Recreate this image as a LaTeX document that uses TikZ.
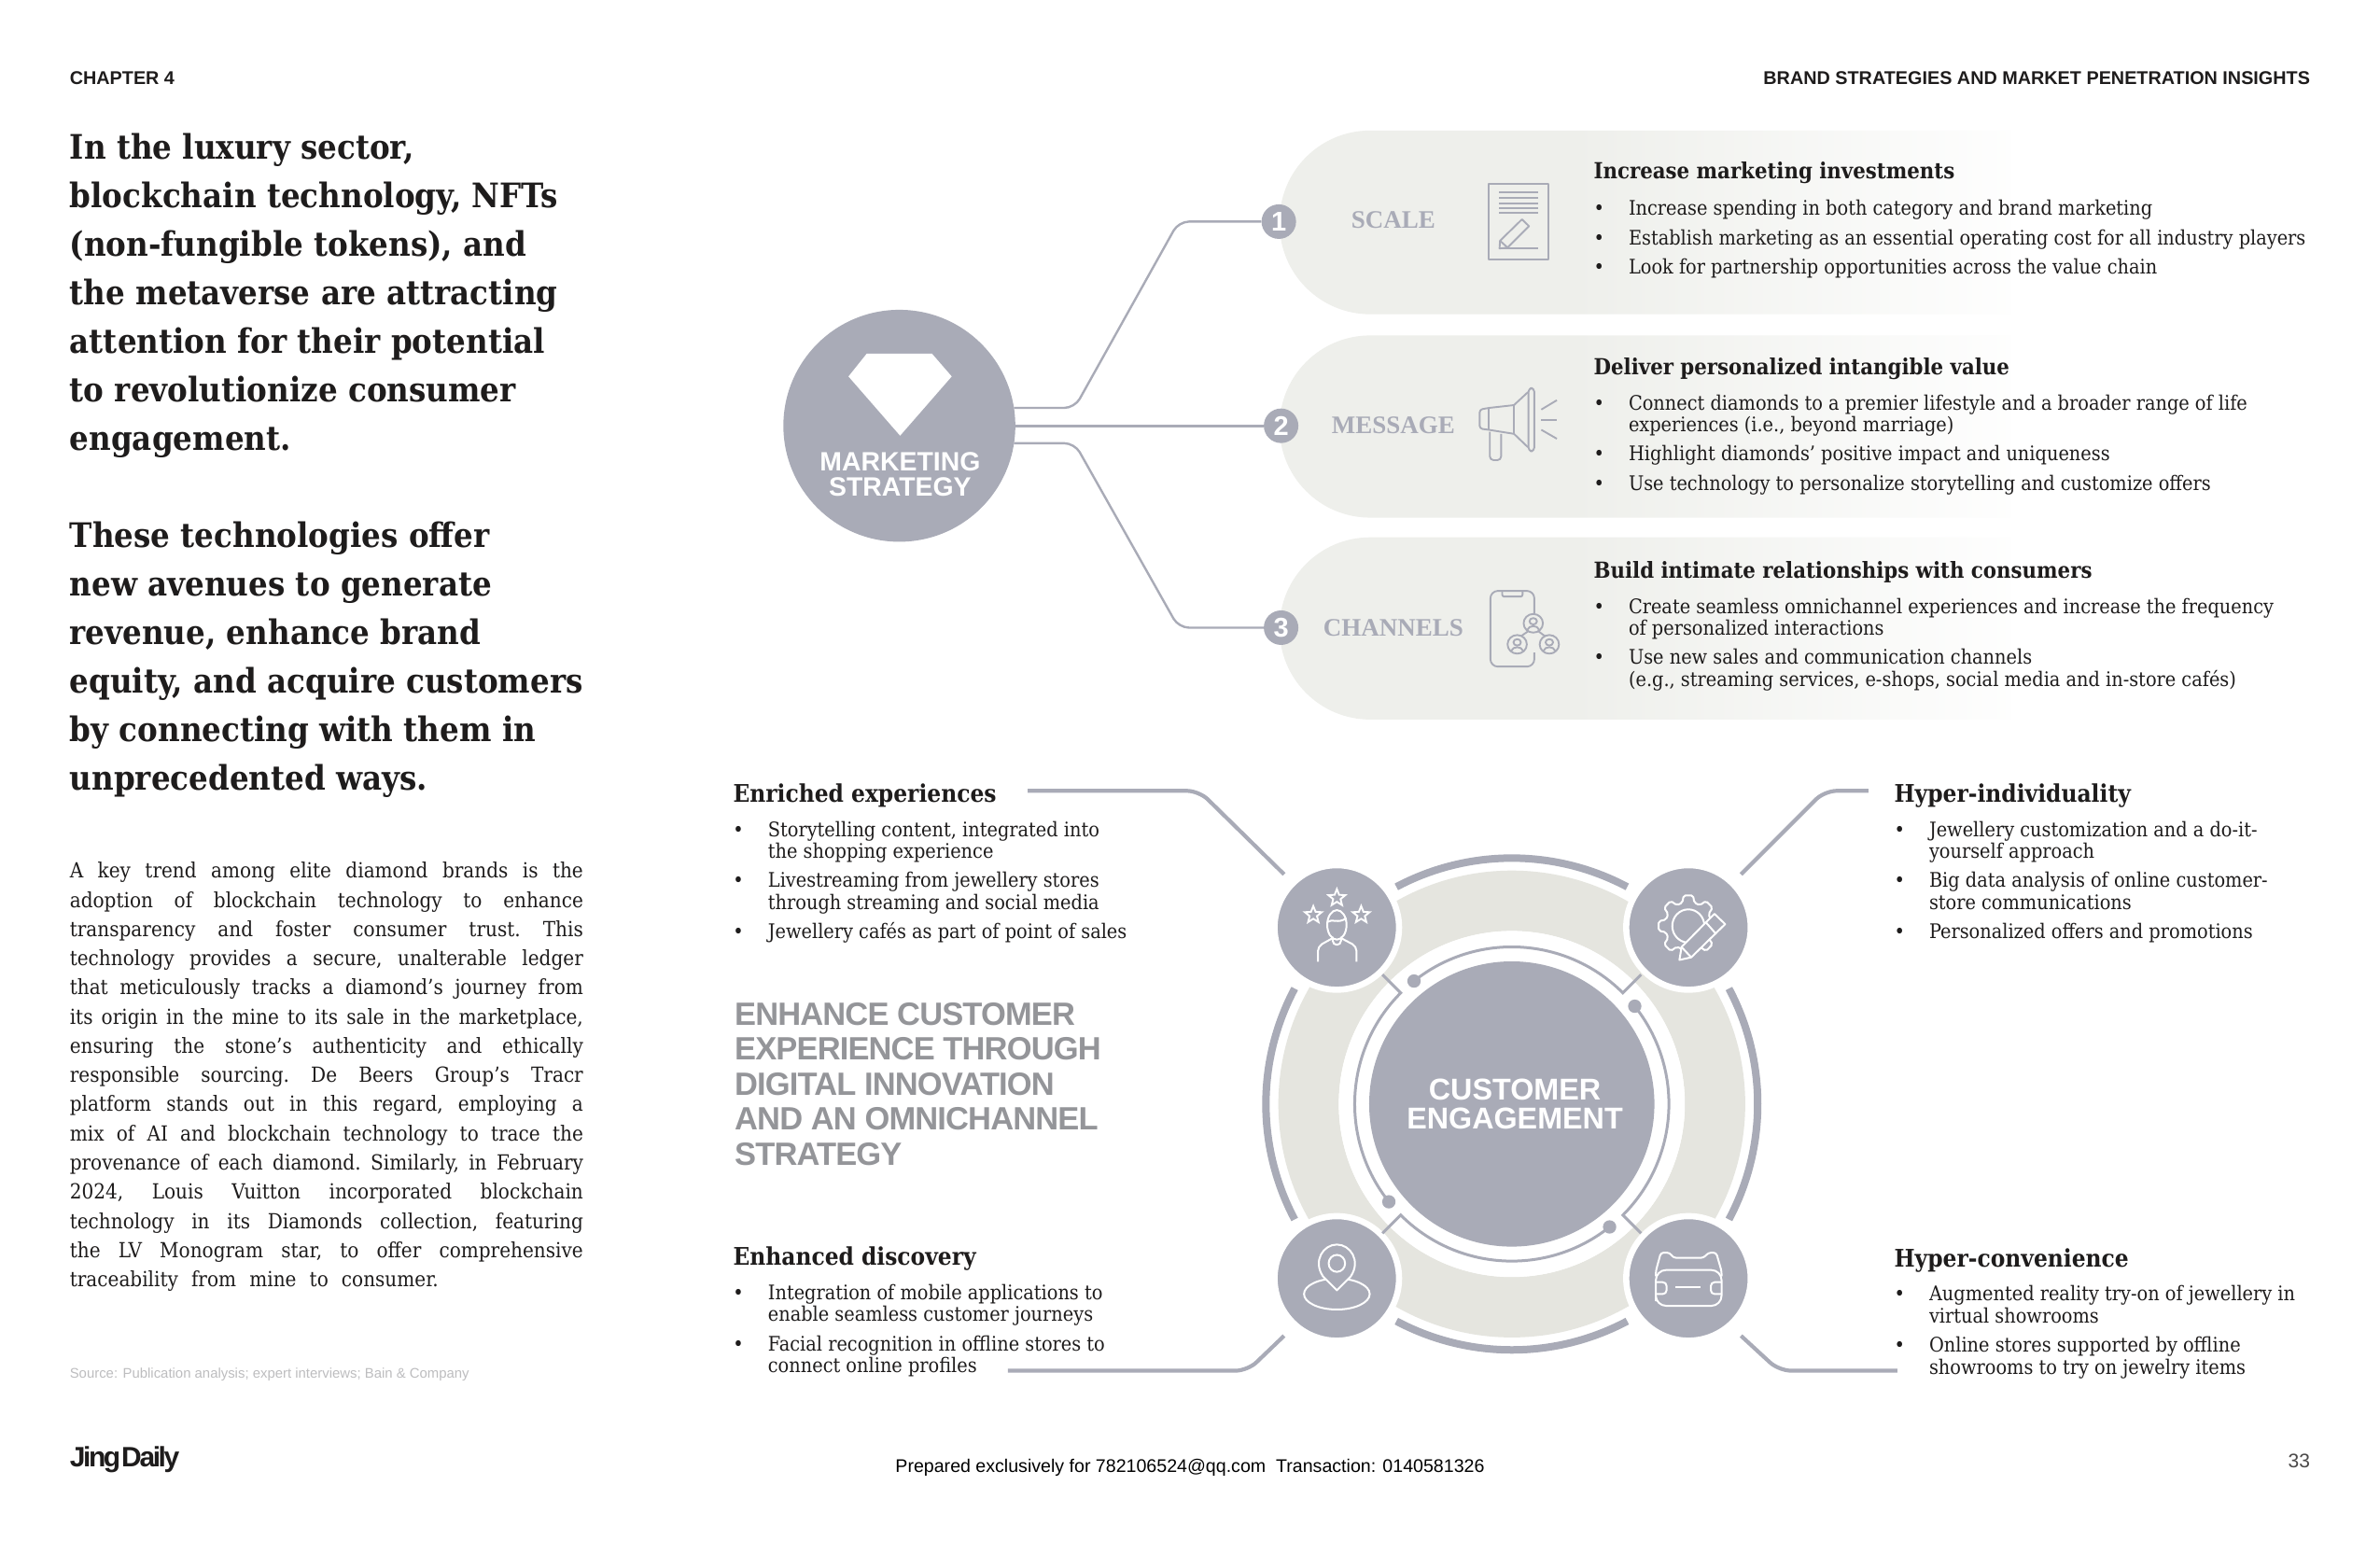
\documentclass[tikz,border=0pt]{standalone}
\usepackage{fontspec}
\usetikzlibrary{shapes.geometric}
\setmainfont{Liberation Sans}
\newfontfamily\srf{DejaVu Serif Condensed}
\newfontfamily\lib{Liberation Serif}
\newfontfamily\sanstight[LetterSpace=-2.5]{Liberation Sans}
\newfontfamily\sanslogo[LetterSpace=-8]{Liberation Sans}
\definecolor{gr}{HTML}{A9ABB7}
\definecolor{bigg}{HTML}{949599}
\definecolor{beige}{HTML}{E5E5DF}
\definecolor{pill}{HTML}{EEEFEB}
\definecolor{ink}{HTML}{1E1C1C}
\definecolor{srcgr}{HTML}{BDBDBF}
\pgfdeclarehorizontalshading{pillfade}{100bp}{color(0bp)=(pill); color(45bp)=(pill); color(77bp)=(white); color(100bp)=(white)}
\newcommand\fs[2]{\fontsize{#1pt}{#2pt}\selectfont}
\newcommand\bl[1]{\hbox{\llap{\textbullet\hspace{26pt}}#1}}
\newcommand\gapitem{\vskip7.3pt}
\tikzset{
 txt/.style={anchor=base west,inner sep=0,outer sep=0,text=ink},
 listtxt/.style={txt,font=\srf\fs{21.5}{23.8}},
 headtxt/.style={txt,font=\srf\bfseries\fs{23.7}{24}},
 headbig/.style={txt,font=\srf\bfseries\fs{26}{26}},
 pilllab/.style={inner sep=0,text=gr,font=\lib\bfseries\fs{27}{27}},
 numc/.style={circle,fill=gr,inner sep=0,minimum size=37pt,text=white,font=\bfseries\fs{29}{29}},
 conn/.style={draw=gr,line width=2.4pt,rounded corners=11pt},
 conb/.style={draw=gr,line width=4.2pt,rounded corners=13pt},
 satc/.style={circle,fill=gr,draw=white,line width=6.6pt,inner sep=0,minimum size=133.4pt},
 iconw/.style={draw=white,line width=2pt,line join=round},
 icong/.style={draw=gr,line width=1.9pt,line join=round},
 zoomA/.style={shift={(492,73.8)},x=0.574pt,y=-0.4337pt},
 zoomB/.style={shift={(811.8,541.2)},x=0.3827pt,y=-0.3955pt},
 polarC/.style={shift={(996,727.3)},x=1.62628pt,y=1.62628pt},
}
\begin{document}
\begin{tikzpicture}[x=1.62628pt,y=-1.62628pt]
\useasboundingbox[fill=white] (0,0) rectangle (1568,1014.6);
% header
\node[txt,font=\bfseries\fs{19.8}{20}] (chap) at (46,55.5) {CHAPTER 4};
\node[anchor=base east,inner sep=0,text=ink,font=\bfseries\fs{19.8}{20}] (run) at (1522,55.5) {BRAND STRATEGIES AND MARKET PENETRATION INSIGHTS};
% left column
\node[txt,font=\srf\bfseries\fs{36.2}{52}] (lead) at (46,104.8) {\vtop{\baselineskip=52.04pt\lineskiplimit=-100pt
\hbox{In the luxury sector,}\hbox{blockchain technology, NFTs}\hbox{(non-fungible tokens), and}\hbox{the metaverse are attracting}\hbox{attention for their potential}\hbox{to revolutionize consumer}\hbox{engagement.}
\vskip52.04pt
\hbox{These technologies offer}\hbox{new avenues to generate}\hbox{revenue, enhance brand}\hbox{equity, and acquire customers}\hbox{by connecting with them in}\hbox{unprecedented ways.}}};
\node[txt,font=\srf\fs{22.3}{31}] (body) at (46,578.5) {\frenchspacing\vtop{\baselineskip=31.27pt\lineskiplimit=-100pt
\hbox to 550pt{A key trend among elite diamond brands is the}
\hbox to 550pt{adoption of blockchain technology to enhance}
\hbox to 550pt{transparency and foster consumer trust. This}
\hbox to 550pt{technology provides a secure, unalterable ledger}
\hbox to 550pt{that meticulously tracks a diamond’s journey from}
\hbox to 550pt{its origin in the mine to its sale in the marketplace,}
\hbox to 550pt{ensuring the stone’s authenticity and ethically}
\hbox to 550pt{responsible sourcing. De Beers Group’s Tracr}
\hbox to 550pt{platform stands out in this regard, employing a}
\hbox to 550pt{mix of AI and blockchain technology to trace the}
\hbox to 550pt{provenance of each diamond. Similarly, in February}
\hbox to 550pt{2024, Louis Vuitton incorporated blockchain}
\hbox to 550pt{technology in its Diamonds collection, featuring}
\hbox to 550pt{the LV Monogram star, to offer comprehensive}
\hbox to 395pt{traceability from mine to consumer.}}};
\node[txt,text=srcgr,font=\fs{14.9}{15}] (src) at (46,908) {Source: Publication analysis; expert interviews; Bain \& Company};
% footer
\node[txt,font=\sanslogo\bfseries\fs{30}{31}] (logo) at (46,966) {Jing\hspace{-5pt} Daily};
\node[anchor=base,inner sep=0,text=black,font=\fs{19.6}{21}] (prep) at (784,970) {Prepared exclusively for 782106524@qq.com\ \ Transaction: 0140581326};
\node[anchor=base east,inner sep=0,text=ink!80,font=\fs{21}{21}] (pg) at (1522,967) {33};
% pills
\foreach \yy/\yb in {86/207,221/341,354/474}{
 \path[shading=pillfade,rounded corners=97pt] (1325,\yy) -- (843,\yy) -- (843,\yb) [sharp corners] -- (1325,\yb) -- cycle;
}
% marketing circle and numbers
\node[circle,fill=gr,inner sep=0,minimum size=248.5pt] (mk) at (592.5,280.5) {};
\node[numc] (n1) at (842.5,146) {1};
\node[numc] (n2) at (844,280.5) {2};
\node[numc] (n3) at (844,413.5) {3};
\coordinate (m1) at (668,268.7);
\coordinate (m2) at (668,280.5);
\coordinate (m3) at (668,292);
\draw[conn] (m1) -- (708,268.7) -- (776.5,146) -- (n1);
\draw[conn,line width=3pt] (m2) -- (n2);
\draw[conn] (m3) -- (708,292) -- (776.5,413.5) -- (n3);
\fill[white] (571,233) -- (614,233) -- (627,248) -- (593,287) -- (559,248) -- cycle;
\node[inner sep=0,align=center,text=white,font=\bfseries\fs{28.4}{27.5}] (mkt) at (593,312.5) {MARKETING\\STRATEGY};
% pill labels
\node[pilllab] (l1) at (918,145) {SCALE};
\node[pilllab] (l2) at (918,280) {MESSAGE};
\node[pilllab] (l3) at (918,413.5) {CHANNELS};
% icons top
\begin{scope}[zoomA]
 \draw[icong] (1384,177) rectangle (1497,365);
 \foreach \zy in {198,212,225,237,249}{\draw[icong] (1404,\zy) -- (1477,\zy);}
 \draw[icong] (1404,337) -- (1477,337);
 \draw[icong] (1405,337) -- (1406,318) -- (1447,265) -- (1460,282) -- (1420,335) -- cycle;
 \draw[icong] (1406,318) -- (1420,335);
 % megaphone
 \draw[icong,rounded corners=3pt] (1385,731) -- (1368,735) -- (1368,782) -- (1385,785);
 \draw[icong] (1385,731) -- (1385,785);
 \draw[icong] (1385,731) -- (1432,724) -- (1458,692);
 \draw[icong] (1385,785) -- (1432,795) -- (1458,828);
 \draw[icong] (1432,724) -- (1432,795);
 \draw[icong,rounded corners=4pt] (1459,682) rectangle (1470,838);
 \draw[icong,rounded corners=4pt] (1387,790) -- (1387,860) -- (1408,860) -- (1408,795);
 \draw[icong] (1483,735) -- (1512,712);
 \draw[icong] (1483,760) -- (1512,760);
 \draw[icong] (1483,785) -- (1512,807);
 % phone
 \draw[icong,rounded corners=8pt] (1470,1240) -- (1470,1183) -- (1388,1183) -- (1388,1370) -- (1470,1370) -- (1470,1335);
 \draw[icong,rounded corners=2pt] (1410,1183) -- (1410,1197) -- (1448,1197) -- (1448,1183);
 \foreach \cx/\cy in {1468/1263,1438/1315,1498/1315}{
  \draw[icong] (\cx,\cy) circle [x radius=18,y radius=23];
  \draw[icong] (\cx,\cy-5) circle [x radius=7,y radius=8];
  \draw[icong] (\cx-11,\cy+16) .. controls (\cx-8,\cy+4) and (\cx+8,\cy+4) .. (\cx+11,\cy+16);
 }
 \draw[icong] (1458,1283) -- (1445,1295);
 \draw[icong] (1478,1283) -- (1490,1295);
\end{scope}
% top texts
\node[headtxt] (h1) at (1050,118) {Increase marketing investments};
\node[listtxt] (t1) at (1073,142) {\vtop{\baselineskip=23.8pt\lineskiplimit=-100pt
\bl{Increase spending in both category and brand marketing}\gapitem
\bl{Establish marketing as an essential operating cost for all industry players}\gapitem
\bl{Look for partnership opportunities across the value chain}}};
\node[headtxt] (h2) at (1050,247) {Deliver personalized intangible value};
\node[listtxt] (t2) at (1073,270) {\vtop{\baselineskip=23.8pt\lineskiplimit=-100pt
\bl{Connect diamonds to a premier lifestyle and a broader range of life}
\hbox{experiences (i.e., beyond marriage)}\gapitem
\bl{Highlight diamonds’ positive impact and uniqueness}\gapitem
\bl{Use technology to personalize storytelling and customize offers}}};
\node[headtxt] (h3) at (1050,381) {Build intimate relationships with consumers};
\node[listtxt] (t3) at (1073,404) {\vtop{\baselineskip=23.8pt\lineskiplimit=-100pt
\bl{Create seamless omnichannel experiences and increase the frequency}
\hbox{of personalized interactions}\gapitem
\bl{Use new sales and communication channels}
\hbox{(e.g., streaming services, e-shops, social media and in-store cafés)}}};
% bottom left and right texts
\node[headbig] (h4) at (483,528.5) {Enriched experiences};
\node[listtxt] (t4) at (506,551) {\vtop{\baselineskip=23.8pt\lineskiplimit=-100pt
\bl{Storytelling content, integrated into}
\hbox{the shopping experience}\gapitem
\bl{Livestreaming from jewellery stores}
\hbox{through streaming and social media}\gapitem
\bl{Jewellery cafés as part of point of sales}}};
\node[txt,text=bigg,font=\sanstight\bfseries\fs{34.5}{37}] (big) at (484,675.5) {\vtop{\baselineskip=37.4pt\lineskiplimit=-100pt
\hbox{ENHANCE CUSTOMER}\hbox{EXPERIENCE THROUGH}\hbox{DIGITAL INNOVATION}\hbox{AND AN OMNICHANNEL}\hbox{STRATEGY}}};
\node[headbig] (h5) at (483,833.5) {Enhanced discovery};
\node[listtxt] (t5) at (506,856) {\vtop{\baselineskip=23.8pt\lineskiplimit=-100pt
\bl{Integration of mobile applications to}
\hbox{enable seamless customer journeys}\gapitem
\bl{Facial recognition in offline stores to}
\hbox{connect online profiles}}};
\node[headbig] (h6) at (1248,528.5) {Hyper-individuality};
\node[listtxt] (t6) at (1271,551) {\vtop{\baselineskip=23.8pt\lineskiplimit=-100pt
\bl{Jewellery customization and a do-it-}
\hbox{yourself approach}\gapitem
\bl{Big data analysis of online customer-}
\hbox{store communications}\gapitem
\bl{Personalized offers and promotions}}};
\node[headbig] (h7) at (1248,834.5) {Hyper-convenience};
\node[listtxt] (t7) at (1271,857) {\vtop{\baselineskip=23.8pt\lineskiplimit=-100pt
\bl{Augmented reality try-on of jewellery in}
\hbox{virtual showrooms}\gapitem
\bl{Online stores supported by offline}
\hbox{showrooms to try on jewelry items}}};
% wheel
\begin{scope}[polarC]
 \draw[beige,line width=64.7pt] (0,0) circle [radius=133.9];
 \foreach \a in {0,90,180,270}{
  \draw[gr,line width=8pt] (\a-28:162) arc [start angle=\a-28,end angle=\a+28,radius=162];
 }
 \fill[white] (0,0) circle [radius=114];
\end{scope}
\node[circle,fill=gr,inner sep=0,minimum size=305.6pt] (ce) at (996,727.3) {};
\node[inner sep=0,align=center,text=white,font=\bfseries\fs{32.3}{31}] (cet) at (998,727.5) {CUSTOMER\\ENGAGEMENT};
\node[satc] (s1) at (880.7,611) {};
\node[satc] (s2) at (1112.4,611) {};
\node[satc] (s3) at (880.7,842.2) {};
\node[satc] (s4) at (1112.4,842.2) {};
\begin{scope}[polarC]
 \foreach \a/\b in {128.5/45,38.5/-45,-51.5/-135,218.5/135}{
  \draw[gr,line width=3pt,line join=miter] (\a:103.5) arc [start angle=\a,end angle=\b,radius=103.5] -- (\b:120.5);
  \fill[gr] (\a:103.5) circle [radius=4.4];
 }
\end{scope}
% connectors of the wheel
\coordinate (e1) at (846,576);
\coordinate (e2) at (1147,576);
\coordinate (e3) at (846,880);
\coordinate (e4) at (1147,880);
\coordinate (f1) at (677,521);
\coordinate (f2) at (1231,521);
\coordinate (f3) at (664,903);
\coordinate (f4) at (1250,903);
\draw[conb] (f1) -- (790,521) -- (e1);
\draw[conb] (f2) -- (1202,521) -- (e2);
\draw[conb] (f3) -- (822,903) -- (e3);
\draw[conb] (f4) -- (1172,903) -- (e4);
% satellite icons
\begin{scope}[zoomB]
 % person with stars
 \foreach \nm/\cx/\cy in {st1/293/207,st2/227/253,st3/361/253}{
  \node[star,star points=5,star point ratio=2.3,draw=white,line width=1.9pt,inner sep=0,minimum size=19pt] (\nm) at (\cx,\cy) {};
 }
 \draw[iconw] (293,280) circle [x radius=27,y radius=40];
 \draw[iconw] (267,272) .. controls (280,262) and (295,278) .. (320,262);
 \draw[iconw] (281,312) -- (281,322) .. controls (281,338) and (305,338) .. (305,322) -- (305,312);
 \draw[iconw,rounded corners=5pt] (240,380) -- (240,338) -- (281,316);
 \draw[iconw,rounded corners=5pt] (348,380) -- (348,338) -- (305,316);
 % gear and pencil
 \begin{scope}[shift={(1277,283)}]
  \draw[iconw,rounded corners=2pt] (-15:65) \foreach \a in {0,45,...,315}{ -- (\a-15:65) -- (\a-9:84) -- (\a+9:84) -- (\a+15:65)} -- cycle;
  \draw[iconw] (0,0) circle [radius=45];
 \end{scope}
 \draw[iconw,fill=gr] (1252,375) -- (1285,368) -- (1380,278) -- (1350,250) -- (1258,340) -- cycle;
 \draw[iconw] (1258,340) -- (1285,368);
 \draw[iconw] (1325,272) -- (1355,305);
 % pin
 \draw[iconw] (293,1280) circle [x radius=92,y radius=42];
 \draw[iconw,fill=gr] (293,1270) -- (254,1232) .. controls (225,1190) and (255,1146) .. (293,1146) .. controls (331,1146) and (361,1190) .. (332,1232) -- cycle;
 \draw[iconw] (293,1197) circle [x radius=23,y radius=23];
 % headset
 \draw[iconw,rounded corners=3pt] (1186,1232) -- (1186,1218) -- (1200,1168) -- (1225,1168) -- (1235,1182) -- (1320,1182) -- (1333,1168) -- (1355,1168) -- (1370,1218) -- (1370,1232);
 \draw[iconw,rounded corners=11pt] (1186,1270) -- (1186,1215) -- (1370,1215) -- (1370,1312) -- (1186,1312) -- cycle;
 \draw[iconw,rounded corners=4pt] (1186,1248) -- (1216,1248) -- (1216,1280) -- (1186,1280);
 \draw[iconw,rounded corners=4pt] (1370,1248) -- (1340,1248) -- (1340,1280) -- (1370,1280);
 \draw[iconw] (1240,1262) -- (1312,1262);
\end{scope}
\end{tikzpicture}
\end{document}
